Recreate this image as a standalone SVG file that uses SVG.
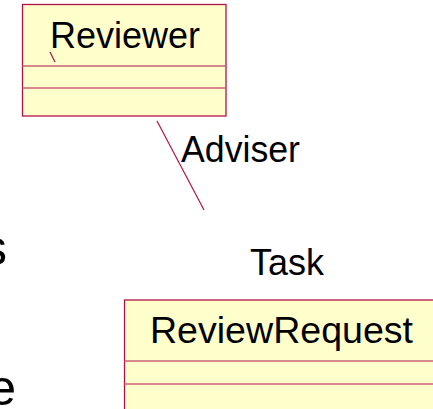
<svg xmlns="http://www.w3.org/2000/svg" width="433" height="409" viewBox="0 0 433 409">
<style>
.box{fill:#FFFFCC;stroke:#B0134A;stroke-width:1.3}
.div{stroke:#C8607A;stroke-width:1.3}
.t{font-family:"Liberation Sans",Arial,sans-serif;font-size:36px;fill:#000}
.big{font-family:"Liberation Sans",Arial,sans-serif;font-size:50px;fill:#000}
.edge{stroke:#B0134A;stroke-width:1.2;fill:none}
</style>
<rect width="433" height="409" fill="#fff"/>
<g id="Reviewer">
<rect class="box" x="22.5" y="4.5" width="203.5" height="111.5"/>
<line class="div" x1="22.5" y1="66" x2="226" y2="66"/>
<line class="div" x1="22.5" y1="88" x2="226" y2="88"/>
<text class="t" x="50" y="48" textLength="150" lengthAdjust="spacingAndGlyphs">Reviewer</text>
</g>
<g id="ReviewRequest">
<rect class="box" x="124.5" y="300" width="330" height="130"/>
<line class="div" x1="124.5" y1="361" x2="440" y2="361"/>
<line class="div" x1="124.5" y1="384" x2="440" y2="384"/>
<text class="t" x="150" y="343" textLength="263" lengthAdjust="spacingAndGlyphs">ReviewRequest</text>
</g>
<g id="connectors">
<line class="edge" x1="157" y1="121" x2="204" y2="210"/>
<line class="edge" x1="50" y1="52" x2="55" y2="62"/>
<text class="t" x="181" y="162" textLength="119" lengthAdjust="spacingAndGlyphs">Adviser</text>
<text class="t" x="250" y="275">Task</text>
</g>
<text class="big" x="7" y="265" text-anchor="end">s</text>
<text class="big" x="16" y="405" text-anchor="end">e</text>
</svg>
